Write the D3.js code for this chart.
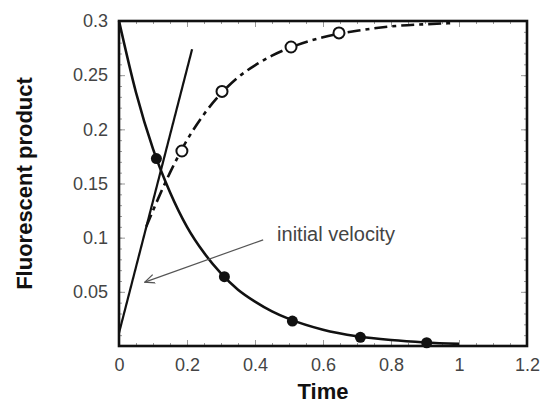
<!DOCTYPE html>
<html>
<head>
<meta charset="utf-8">
<script src="https://cdn.jsdelivr.net/npm/d3@7"></script>
<style>
body { margin: 0; background: #fff; }
text { font-family: "Liberation Sans", Arial, sans-serif; }
</style>
</head>
<body>
<script>
var width = 542;
var height = 405;

// data
var xTicks = [0, 0.2, 0.4, 0.6, 0.8, 1, 1.2];
var yTicks = [0.05, 0.1, 0.15, 0.2, 0.25, 0.3];
var yTickLabels = ["0.05", "0.1", "0.15", "0.2", "0.25", "0.3"];

var decayTime = [0, 0.05, 0.1, 0.15, 0.2, 0.25, 0.3, 0.35, 0.4, 0.45, 0.5, 0.6, 0.7, 0.8, 0.9, 1.0];
var decayCurve = [0.3, 0.234, 0.182, 0.142, 0.110, 0.086, 0.067, 0.052, 0.041, 0.032, 0.025, 0.015, 0.009, 0.0055, 0.0033, 0.002];
var productTime = [0.08, 0.1, 0.15, 0.2, 0.25, 0.3, 0.35, 0.4, 0.45, 0.5, 0.6, 0.7, 0.8, 0.9, 0.98];
var productCurve = [0.11, 0.125, 0.16, 0.19, 0.214, 0.233, 0.248, 0.259, 0.268, 0.275, 0.285, 0.291, 0.295, 0.297, 0.298];

var filledTime = [0.11, 0.31, 0.51, 0.71, 0.905];
var filledValue = [0.173, 0.064, 0.023, 0.008, 0.003];
var openTime = [0.185, 0.303, 0.506, 0.647];
var openValue = [0.18, 0.235, 0.276, 0.289];

var tangentTime = [0, 0.215];
var tangentValue = [0.012, 0.274];

var arrowFrom = [0.424, 0.098];
var arrowTo = [0.076, 0.059];
var noteText = "initial velocity";

// plot box (window.top is read-only, hence the names)
var boxLeft = 119, boxRight = 527, boxTop = 21, boxBottom = 346;

var x = d3.scaleLinear().domain([0, 1.2]).range([boxLeft, boxRight]);
var y = d3.scaleLinear().domain([0, 0.3]).range([boxBottom, boxTop]);

var svg = d3.select("body").append("svg")
    .attr("width", width)
    .attr("height", height);

svg.append("defs").append("marker")
    .attr("id", "head")
    .attr("viewBox", "0 0 10 10")
    .attr("refX", 9).attr("refY", 5)
    .attr("markerWidth", 11).attr("markerHeight", 11)
    .attr("markerUnits", "userSpaceOnUse")
    .attr("orient", "auto")
  .append("path")
    .attr("d", "M0,1 L9,5 L0,9")
    .attr("fill", "none")
    .attr("stroke", "#555")
    .attr("stroke-width", 1.2);

// inward ticks on all four sides
function tickAxis(axis, tx, ty, size, values) {
  var g = svg.append("g")
      .attr("transform", "translate(" + tx + "," + ty + ")")
      .call(axis.tickValues(values).tickSize(size).tickFormat(""));
  g.select(".domain").remove();
  g.selectAll("line").attr("stroke", "#999").attr("stroke-width", 1);
}
var xMinor = d3.range(0.05, 1.2, 0.05);
var yMinor = d3.range(0.01, 0.3, 0.01);
tickAxis(d3.axisTop(x), 0, boxBottom, 3, xMinor);
tickAxis(d3.axisBottom(x), 0, boxTop, 3, xMinor);
tickAxis(d3.axisRight(y), boxLeft, 0, 3, yMinor);
tickAxis(d3.axisLeft(y), boxRight, 0, 3, yMinor);
tickAxis(d3.axisTop(x), 0, boxBottom, 6, xTicks);
tickAxis(d3.axisBottom(x), 0, boxTop, 6, xTicks);
tickAxis(d3.axisRight(y), boxLeft, 0, 6, yTicks);
tickAxis(d3.axisLeft(y), boxRight, 0, 6, yTicks);

// tick labels
var xLab = svg.append("g")
    .attr("transform", "translate(0," + boxBottom + ")")
    .call(d3.axisBottom(x).tickValues(xTicks).tickSize(0).tickPadding(12)
      .tickFormat(function(d) { return String(d); }));
xLab.select(".domain").remove();
xLab.selectAll("text").attr("font-size", 18).attr("fill", "#444")
    .style("font-family", "'Liberation Sans', Arial, sans-serif");

var yLab = svg.append("g")
    .attr("transform", "translate(" + boxLeft + ",0)")
    .call(d3.axisLeft(y).tickValues(yTicks).tickSize(0).tickPadding(11)
      .tickFormat(function(d, i) { return yTickLabels[i]; }));
yLab.select(".domain").remove();
yLab.selectAll("text").attr("font-size", 18).attr("fill", "#444")
    .style("font-family", "'Liberation Sans', Arial, sans-serif");

// lines
var line = d3.line()
    .x(function(d) { return x(d[0]); })
    .y(function(d) { return y(d[1]); })
    .curve(d3.curveMonotoneX);

svg.append("path")
    .attr("d", line(d3.zip(productTime, productCurve)))
    .attr("fill", "none")
    .attr("stroke", "#111")
    .attr("stroke-width", 2.6)
    .attr("stroke-dasharray", "13,5,4,5");

svg.append("path")
    .attr("d", line(d3.zip(decayTime, decayCurve)))
    .attr("fill", "none")
    .attr("stroke", "#111")
    .attr("stroke-width", 2.6);

svg.append("path")
    .attr("d", d3.line().x(function(d) { return x(d[0]); }).y(function(d) { return y(d[1]); })(d3.zip(tangentTime, tangentValue)))
    .attr("fill", "none")
    .attr("stroke", "#111")
    .attr("stroke-width", 2.2);

// markers
svg.selectAll(".filled")
    .data(d3.zip(filledTime, filledValue))
  .enter().append("circle")
    .attr("cx", function(d) { return x(d[0]); })
    .attr("cy", function(d) { return y(d[1]); })
    .attr("r", 5.5)
    .attr("fill", "#111");

svg.selectAll(".open")
    .data(d3.zip(openTime, openValue))
  .enter().append("circle")
    .attr("cx", function(d) { return x(d[0]); })
    .attr("cy", function(d) { return y(d[1]); })
    .attr("r", 5.5)
    .attr("fill", "#fff")
    .attr("stroke", "#111")
    .attr("stroke-width", 2);

// annotation
svg.append("line")
    .attr("x1", x(arrowFrom[0])).attr("y1", y(arrowFrom[1]))
    .attr("x2", x(arrowTo[0])).attr("y2", y(arrowTo[1]))
    .attr("stroke", "#555")
    .attr("stroke-width", 1.2)
    .attr("marker-end", "url(#head)");

svg.append("text")
    .attr("x", x(0.465))
    .attr("y", y(0.097))
    .attr("font-size", 20)
    .attr("fill", "#444")
    .text(noteText);

// frame
svg.append("rect")
    .attr("x", boxLeft).attr("y", boxTop)
    .attr("width", boxRight - boxLeft).attr("height", boxBottom - boxTop)
    .attr("fill", "none")
    .attr("stroke", "#111")
    .attr("stroke-width", 2.6);

// axis titles
svg.append("text")
    .attr("x", (boxLeft + boxRight) / 2)
    .attr("y", 399)
    .attr("text-anchor", "middle")
    .attr("font-size", 22)
    .attr("font-weight", "bold")
    .attr("fill", "#111")
    .text("Time");

svg.append("text")
    .attr("transform", "translate(32," + ((boxTop + boxBottom) / 2) + ") rotate(-90)")
    .attr("text-anchor", "middle")
    .attr("font-size", 22)
    .attr("font-weight", "bold")
    .attr("fill", "#111")
    .text("Fluorescent product");
</script>
</body>
</html>
